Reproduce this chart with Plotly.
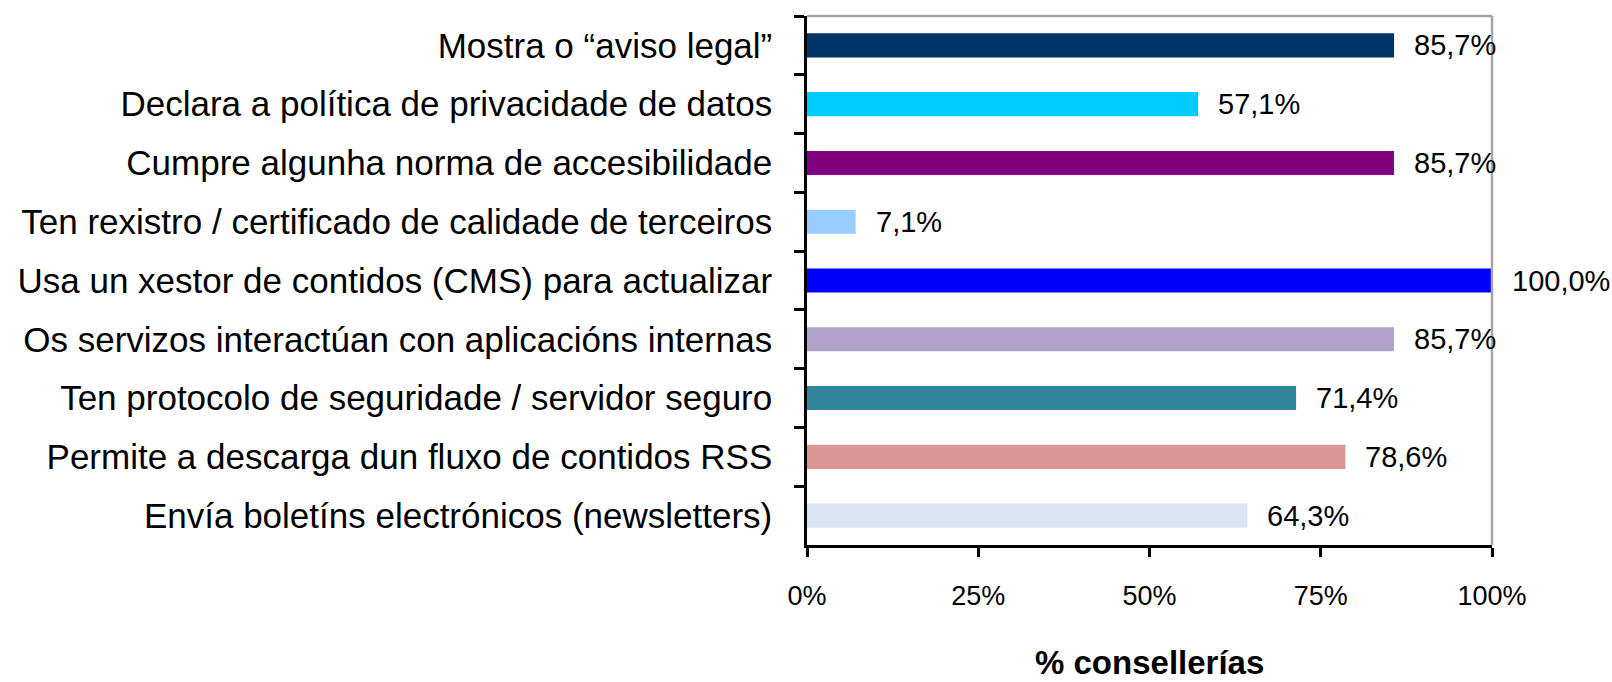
import plotly.graph_objects as go

categories = [
    "Mostra o “aviso legal”",
    "Declara a política de privacidade de datos",
    "Cumpre algunha norma de accesibilidade",
    "Ten rexistro / certificado de calidade de terceiros",
    "Usa un xestor de contidos (CMS) para actualizar",
    "Os servizos interactúan con aplicacións internas",
    "Ten protocolo de seguridade / servidor seguro",
    "Permite a descarga dun fluxo de contidos RSS",
    "Envía boletíns electrónicos (newsletters)",
]
values = [85.7, 57.1, 85.7, 7.1, 100.0, 85.7, 71.4, 78.6, 64.3]
colors = ["#003366", "#00CCFF", "#800080", "#99CCFF", "#0000FF",
          "#B3A2C7", "#31859C", "#D99694", "#DBE5F1"]
x_tickvals = [0, 25, 50, 75, 100]
x_ticktext = ["0%", "25%", "50%", "75%", "100%"]
x_title = "% consellerías"

FONT = "Liberation Sans, Arial, sans-serif"

fig = go.Figure(go.Bar(
    x=values, y=categories, orientation="h",
    marker=dict(color=colors, line=dict(width=0)),
    hoverinfo="skip",
))

for c, v in zip(categories, values):
    fig.add_annotation(
        x=v, y=c, xref="x", yref="y",
        text=f"{v:.1f}".replace(".", ",") + "%",
        showarrow=False, xanchor="left", yanchor="middle", xshift=18,
        font=dict(family=FONT, size=29, color="black"),
    )

fig.add_annotation(
    x=0.5, y=-0.222, xref="paper", yref="paper",
    text=f"<b>{x_title}</b>", showarrow=False,
    xanchor="center", yanchor="middle",
    font=dict(family=FONT, size=33, color="black"),
)

# gray top and right borders
fig.add_shape(type="line", xref="paper", yref="paper", x0=0, x1=1, y0=1, y1=1,
              line=dict(color="#A6A6A6", width=2.5))
fig.add_shape(type="line", xref="paper", yref="paper", x0=1, x1=1, y0=0, y1=1,
              line=dict(color="#A6A6A6", width=2.5))

fig.update_layout(
    width=1612, height=682,
    margin=dict(l=807, r=120, t=16, b=137),
    paper_bgcolor="white", plot_bgcolor="white",
    bargap=0.59,
    showlegend=False,
    font=dict(family=FONT, color="black"),
)
fig.update_xaxes(
    range=[0, 100], tickvals=x_tickvals, ticktext=x_ticktext,
    showgrid=False, zeroline=False,
    showline=True, linecolor="black", linewidth=2.5,
    ticks="outside", ticklen=9, tickwidth=2.5, tickcolor="black",
    tickfont=dict(family=FONT, size=27, color="black"),
    ticklabelstandoff=16,
)
fig.update_yaxes(
    type="category", autorange="reversed",
    showgrid=False, zeroline=False,
    showline=True, linecolor="black", linewidth=2.5,
    ticks="outside", ticklen=10, tickwidth=2.5, tickcolor="black",
    tickson="boundaries",
    tickfont=dict(family=FONT, size=35, color="black"),
    ticklabelstandoff=25,
)

fig.write_html(
    "out.html",
    config={"displayModeBar": False},
    post_script="document.body.style.margin='0';document.body.style.overflow='hidden';",
)
